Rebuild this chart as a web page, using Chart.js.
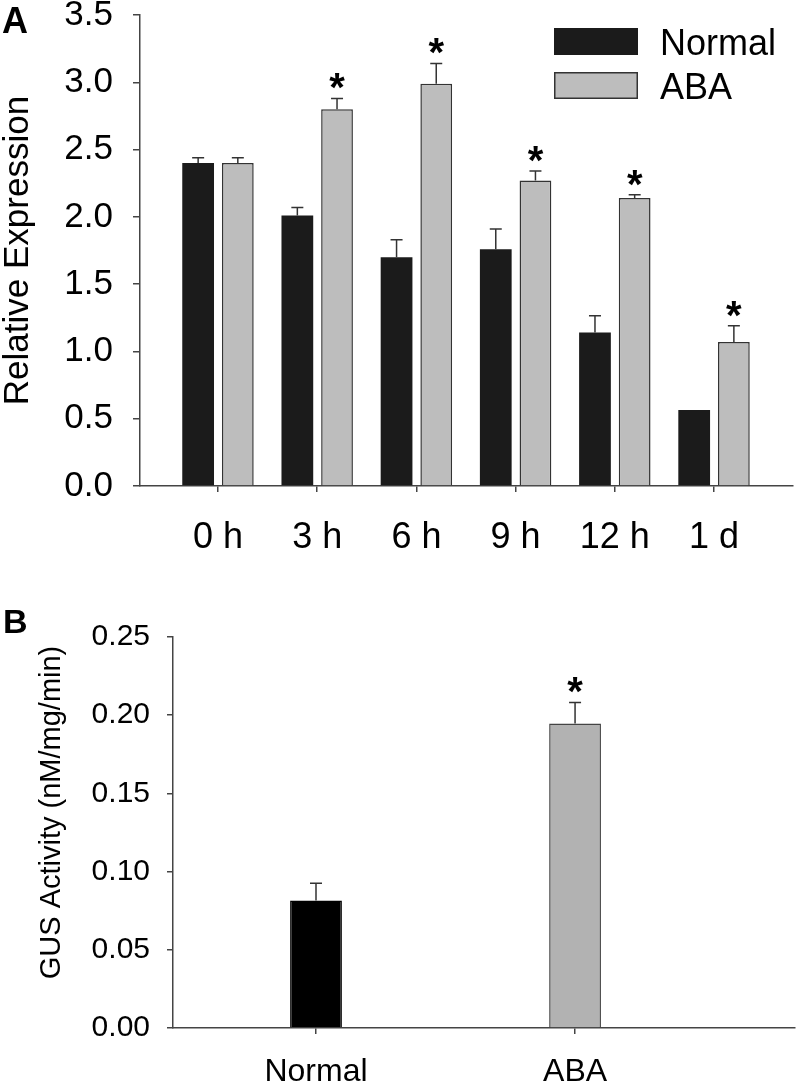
<!DOCTYPE html>
<html>
<head>
<meta charset="utf-8">
<script src="https://cdn.jsdelivr.net/npm/chart.js@4"></script>
<style>
  body { margin: 0; background: #fff; overflow: hidden; }
  canvas { position: absolute; left: 0; }
  #chartA { top: -19px; }
  #chartB { top: 560px; }
</style>
</head>
<body>
<canvas id="chartA" width="797" height="579"></canvas>
<canvas id="chartB" width="797" height="525"></canvas>
<script>
// Panel A: relative expression over time
const timePoints = ['0 h', '3 h', '6 h', '9 h', '12 h', '1 d'];
const normalExpr = [2.40, 2.01, 1.70, 1.76, 1.14, 0.565];
const normalErr = [0.04, 0.06, 0.13, 0.15, 0.125, 0];
const abaExpr = [2.40, 2.80, 2.99, 2.27, 2.14, 1.07];
const abaErr = [0.04, 0.08, 0.15, 0.07, 0.025, 0.12];
const abaStar = [false, true, true, true, true, true];

// Panel B: GUS activity
const gusGroups = ['Normal', 'ABA'];
const gusActivity = [0.0816, 0.1947];
const gusErr = [0.011, 0.0135];
const gusStar = [false, true];

const FONT = "'Liberation Sans', Arial, sans-serif";
const AXIS = '#444';
const SHIFT_A = 19; // canvas A sits 19px above the page top

// error bars + asterisks, drawn from the scales
const errorBars = {
  id: 'errorBars',
  afterDatasetsDraw(chart) {
    const ctx = chart.ctx;
    const yScale = chart.scales.y;
    chart.data.datasets.forEach((ds, di) => {
      const meta = chart.getDatasetMeta(di);
      meta.data.forEach((bar, i) => {
        const top = yScale.getPixelForValue(ds.data[i].y + ds.errors[i]);
        ctx.save();
        ctx.strokeStyle = '#333';
        ctx.lineWidth = 1.5;
        if (ds.errors[i] > 0) {
          ctx.beginPath();
          ctx.moveTo(bar.x, bar.y);
          ctx.lineTo(bar.x, top);
          ctx.moveTo(bar.x - 6, top);
          ctx.lineTo(bar.x + 6, top);
          ctx.stroke();
        }
        if (ds.stars && ds.stars[i]) {
          ctx.fillStyle = '#000';
          ctx.font = 'bold 40px ' + FONT;
          ctx.textAlign = 'center';
          ctx.textBaseline = 'alphabetic';
          ctx.fillText('*', bar.x, top + 3);
        }
        ctx.restore();
      });
    });
  }
};

const panelA = {
  id: 'panelA',
  afterDraw(chart) {
    const ctx = chart.ctx;
    const area = chart.chartArea;
    ctx.save();
    ctx.fillStyle = '#000';
    ctx.font = 'bold 36px ' + FONT;
    ctx.textAlign = 'left';
    ctx.textBaseline = 'alphabetic';
    ctx.fillText('A', 2, 33 + SHIFT_A);
    // legend
    const bx = area.right - 239;
    chart.data.datasets.forEach((ds, i) => {
      const by = area.top + 13 + i * 44;
      ctx.fillStyle = ds.backgroundColor;
      ctx.fillRect(bx, by, 84, 27);
      if (ds.borderWidth) {
        ctx.strokeStyle = ds.borderColor;
        ctx.lineWidth = 1.5;
        ctx.strokeRect(bx + 0.75, by + 0.75, 82.5, 25.5);
      }
      ctx.fillStyle = '#000';
      ctx.font = '36px ' + FONT;
      ctx.fillText(ds.label, bx + 106, by + 27);
    });
    ctx.restore();
  }
};

const panelB = {
  id: 'panelB',
  afterDraw(chart) {
    const ctx = chart.ctx;
    const area = chart.chartArea;
    ctx.save();
    ctx.fillStyle = '#000';
    ctx.font = 'bold 34px ' + FONT;
    ctx.textAlign = 'left';
    ctx.textBaseline = 'alphabetic';
    ctx.fillText('B', 3, 73);
    ctx.translate(52, (area.top + area.bottom) / 2 - 20);
    ctx.rotate(-Math.PI / 2);
    ctx.font = '29px ' + FONT;
    ctx.textAlign = 'center';
    ctx.textBaseline = 'middle';
    ctx.fillText('GUS Activity (nM/mg/min)', 0, 0);
    ctx.restore();
  }
};

const ctxA = document.getElementById('chartA').getContext('2d');
new Chart(ctxA, {
  type: 'bar',
  data: {
    datasets: [{
      label: 'Normal',
      data: normalExpr.map((v, i) => ({ x: i, y: v })),
      errors: normalErr,
      backgroundColor: '#1b1b1b',
      borderColor: '#1b1b1b',
      borderWidth: 0,
    }, {
      label: 'ABA',
      data: abaExpr.map((v, i) => ({ x: i, y: v })),
      errors: abaErr,
      stars: abaStar,
      backgroundColor: '#bdbdbd',
      borderColor: '#333',
      borderWidth: 1.5,
    }]
  },
  options: {
    responsive: false,
    animation: false,
    categoryPercentage: 0.8,
    barPercentage: 0.8,
    layout: { padding: { top: 15 + SHIFT_A, right: 4, left: 0, bottom: 0 } },
    plugins: { legend: { display: false }, tooltip: { enabled: false } },
    scales: {
      x: {
        type: 'linear',
        offset: false,
        min: -0.786,
        max: 5.796,
        afterBuildTicks: s => { s.ticks = timePoints.map((_, i) => ({ value: i })); },
        afterFit: s => { s.height = 74; },
        ticks: {
          callback: v => timePoints[v],
          font: { family: FONT, size: 36 },
          color: '#000',
          padding: 24,
          maxRotation: 0,
          autoSkip: false,
        },
        grid: { offset: false, drawOnChartArea: false, tickLength: 6, color: AXIS, lineWidth: 1.5 },
        border: { color: AXIS, width: 1.5 },
      },
      y: {
        min: 0,
        max: 3.5,
        ticks: {
          stepSize: 0.5,
          callback: v => v.toFixed(1),
          font: { family: FONT, size: 35, lineHeight: 0.8 },
          color: '#000',
          padding: 20,
        },
        afterFit: s => { s.width = 140; },
        title: {
          display: true,
          text: 'Relative Expression',
          font: { family: FONT, size: 35 },
          color: '#000',
          padding: { top: -3, bottom: 0 },
        },
        grid: { drawOnChartArea: false, tickLength: 7, color: AXIS, lineWidth: 1.5 },
        border: { color: AXIS, width: 1.5 },
      }
    }
  },
  plugins: [errorBars, panelA],
});

const ctxB = document.getElementById('chartB').getContext('2d');
new Chart(ctxB, {
  type: 'bar',
  data: {
    datasets: [{
      label: 'GUS',
      data: gusActivity.map((v, i) => ({ x: i, y: v })),
      errors: gusErr,
      stars: gusStar,
      backgroundColor: ['#000', '#b2b2b2'],
      borderColor: ['#000', '#444'],
      borderWidth: 1.5,
    }]
  },
  options: {
    responsive: false,
    animation: false,
    categoryPercentage: 0.8,
    barPercentage: 0.25,
    layout: { padding: { top: 77, right: 2, left: 0, bottom: 0 } },
    plugins: { legend: { display: false }, tooltip: { enabled: false } },
    scales: {
      x: {
        type: 'linear',
        offset: false,
        min: -0.552,
        max: 1.849,
        afterBuildTicks: s => { s.ticks = gusGroups.map((_, i) => ({ value: i })); },
        afterFit: s => { s.height = 57; },
        ticks: {
          callback: v => gusGroups[v],
          font: { family: FONT, size: 32 },
          color: '#000',
          padding: 19,
          maxRotation: 0,
          autoSkip: false,
        },
        grid: { offset: false, drawOnChartArea: false, tickLength: 6, color: AXIS, lineWidth: 1.5 },
        border: { color: AXIS, width: 1.5 },
      },
      y: {
        min: 0,
        max: 0.25,
        ticks: {
          stepSize: 0.05,
          callback: v => v.toFixed(2),
          font: { family: FONT, size: 30, lineHeight: 0.8 },
          color: '#000',
          padding: 17,
        },
        afterFit: s => { s.width = 173; },
        grid: { drawOnChartArea: false, tickLength: 6, color: AXIS, lineWidth: 1.5 },
        border: { color: AXIS, width: 1.5 },
      }
    }
  },
  plugins: [errorBars, panelB],
});
</script>
</body>
</html>
